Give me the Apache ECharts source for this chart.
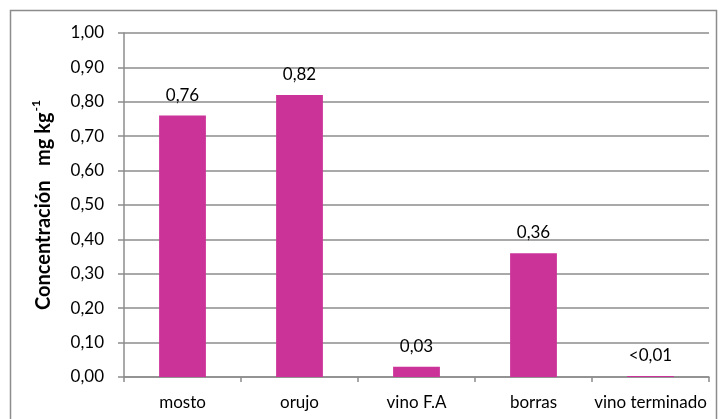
<!DOCTYPE html>
<html>
<head>
<meta charset="utf-8">
<script src="https://cdn.jsdelivr.net/npm/echarts@6/dist/echarts.min.js"></script>
<style>
  html, body { margin: 0; padding: 0; background: #fff; }
  #chart { width: 719px; height: 419px; }
</style>
</head>
<body>
<div id="chart"></div>
<script>
// Concentration by stage of the winemaking process
const categories = ['mosto', 'orujo', 'vino F.A', 'borras', 'vino terminado'];
const values = [0.76, 0.82, 0.03, 0.36, 0.003];
const valueLabels = ['0,76', '0,82', '0,03', '0,36', '<0,01'];
const yTicks = { min: 0, max: 1, interval: 0.1 };

const font = 'Lato, "Open Sans", sans-serif';
const chart = echarts.init(document.getElementById('chart'));

chart.setOption({
  animation: false,
  backgroundColor: '#fff',
  grid: { left: 124, right: 10, top: 33, bottom: 42, containLabel: false },
  graphic: [{
    type: 'rect',
    shape: { x: 10.5, y: 10.5, width: 706, height: 420 },
    style: { fill: 'none', stroke: '#8c8c8c', lineWidth: 1.5 },
    silent: true
  }],
  xAxis: {
    type: 'category',
    data: categories,
    axisLine: { lineStyle: { color: '#8c8c8c', width: 1.5 } },
    axisTick: { show: true, length: 5, alignWithLabel: false, lineStyle: { color: '#8c8c8c', width: 1.5 } },
    axisLabel: { interval: 0, color: '#000', fontFamily: font, fontSize: 17, margin: 17 }
  },
  yAxis: {
    type: 'value',
    min: yTicks.min,
    max: yTicks.max,
    interval: yTicks.interval,
    name: '{t|Concentración   mg kg}{s|-1}',
    nameLocation: 'middle',
    nameRotate: 90,
    nameGap: 70,
    nameTextStyle: {
      rich: {
        t: { fontFamily: font, fontSize: 20, fontWeight: 'bold', color: '#000', lineHeight: 24, verticalAlign: 'bottom' },
        s: { fontFamily: font, fontSize: 12, fontWeight: 'bold', color: '#000', lineHeight: 24, verticalAlign: 'top', padding: [0, 0, 0, 1] }
      }
    },
    axisLine: { show: true, lineStyle: { color: '#8c8c8c', width: 1.5 } },
    axisTick: { show: true, length: 6, lineStyle: { color: '#8c8c8c', width: 1.5 } },
    splitLine: { show: true, lineStyle: { color: '#8c8c8c', width: 1.5 } },
    axisLabel: {
      color: '#000', fontFamily: font, fontSize: 17, margin: 20,
      formatter: v => v.toFixed(2).replace('.', ',')
    }
  },
  series: [{
    type: 'bar',
    data: values,
    barWidth: '40%',
    itemStyle: { color: '#CC3399' },
    label: {
      show: true,
      position: 'top',
      distance: 12,
      color: '#000',
      fontFamily: font,
      fontSize: 17,
      formatter: p => valueLabels[p.dataIndex]
    }
  }]
});
</script>
</body>
</html>
